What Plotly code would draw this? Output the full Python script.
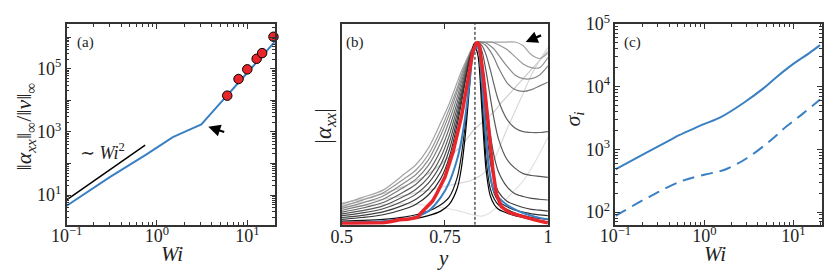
import plotly.graph_objects as go

W, H = 831, 271

# ---------------- panel (a) data ----------------
wi_a = [0.1, 0.3, 0.75, 1.0, 1.5, 2.2, 3.1, 4.0, 6.0, 10.0, 20.0]
alpha_a = [4.6, 37, 187, 320, 680, 1110, 1720, 3900, 14000, 74000, 690000]
wi_pts = [6.0, 8.0, 10.0, 12.7, 14.6, 19.5]
alpha_pts = [1.4e4, 4.7e4, 9.5e4, 2.05e5, 3.1e5, 1.02e6]
wi_ref = [0.1, 0.74]
alpha_ref = [7.1, 380]

# ---------------- panel (b) data ----------------
y_grid = [0.50, 0.55, 0.60, 0.65, 0.68, 0.71, 0.74, 0.76, 0.78, 0.79, 0.80, 0.81, 0.82,
          0.83, 0.84, 0.85, 0.86, 0.87, 0.88, 0.90, 0.92, 0.94, 0.96, 0.98, 1.00]
y_crit = 0.823

grey_curves = [
    # lightest / broadest first
    [0.113, 0.15, 0.19, 0.275, 0.33, 0.42, 0.56, 0.66, 0.78, 0.84, 0.89, 0.94, 0.98,
     1.0, 1.0, 1.0, 1.0, 1.0, 1.0, 1.0, 1.0, 0.98, 0.93, 0.91, 0.94],
    [0.10, 0.135, 0.175, 0.25, 0.30, 0.385, 0.52, 0.63, 0.75, 0.82, 0.88, 0.935, 0.98,
     1.0, 1.0, 1.0, 1.0, 0.995, 0.985, 0.96, 0.92, 0.88, 0.86, 0.86, 0.915],
    [0.09, 0.12, 0.158, 0.228, 0.275, 0.355, 0.49, 0.60, 0.73, 0.80, 0.87, 0.93, 0.98,
     1.0, 1.0, 0.995, 0.98, 0.96, 0.93, 0.87, 0.82, 0.80, 0.80, 0.82, 0.87],
    [0.08, 0.105, 0.14, 0.205, 0.25, 0.325, 0.45, 0.565, 0.70, 0.78, 0.855, 0.925, 0.975,
     1.0, 0.995, 0.98, 0.95, 0.91, 0.86, 0.78, 0.74, 0.73, 0.74, 0.76, 0.78],
    [0.07, 0.092, 0.122, 0.18, 0.222, 0.292, 0.41, 0.525, 0.67, 0.755, 0.84, 0.92, 0.975,
     1.0, 0.98, 0.93, 0.85, 0.76, 0.68, 0.58, 0.53, 0.51, 0.505, 0.505, 0.51],
    [0.06, 0.078, 0.104, 0.155, 0.195, 0.26, 0.37, 0.485, 0.64, 0.73, 0.825, 0.915, 0.975,
     1.0, 0.95, 0.84, 0.70, 0.57, 0.47, 0.36, 0.31, 0.28, 0.27, 0.265, 0.26],
    [0.05, 0.065, 0.088, 0.132, 0.168, 0.228, 0.33, 0.445, 0.61, 0.71, 0.81, 0.91, 0.975,
     1.0, 0.90, 0.70, 0.50, 0.37, 0.29, 0.21, 0.17, 0.155, 0.145, 0.14, 0.136],
    [0.04, 0.052, 0.071, 0.108, 0.14, 0.195, 0.29, 0.405, 0.58, 0.69, 0.80, 0.905, 0.975,
     0.99, 0.83, 0.55, 0.35, 0.24, 0.18, 0.13, 0.11, 0.095, 0.085, 0.08, 0.075],
    [0.03, 0.04, 0.055, 0.085, 0.113, 0.163, 0.253, 0.365, 0.55, 0.665, 0.79, 0.90, 0.97,
     0.98, 0.76, 0.45, 0.26, 0.17, 0.13, 0.10, 0.08, 0.07, 0.06, 0.055, 0.05],
    [0.02, 0.024, 0.03, 0.042, 0.055, 0.075, 0.11, 0.15, 0.26, 0.38, 0.56, 0.79, 0.97,
     0.97, 0.70, 0.36, 0.20, 0.14, 0.11, 0.085, 0.065, 0.05, 0.04, 0.035, 0.03],
    [0.012, 0.015, 0.019, 0.027, 0.035, 0.05, 0.075, 0.11, 0.20, 0.31, 0.50, 0.76, 0.99,
     0.93, 0.62, 0.30, 0.16, 0.11, 0.085, 0.065, 0.05, 0.04, 0.03, 0.022, 0.017],
]
grey_colors = ["#a4a4a4", "#979797", "#8a8a8a", "#7c7c7c", "#636363", "#585858",
               "#4c4c4c", "#3e3e3e", "#2e2e2e", "#161616", "#000000"]

faint_curves = [
    [0.10, 0.105, 0.112, 0.116, 0.113, 0.105, 0.095, 0.088, 0.078, 0.072, 0.066, 0.06, 0.054,
     0.05, 0.048, 0.055, 0.068, 0.085, 0.105, 0.145, 0.19, 0.24, 0.31, 0.39, 0.48],
    [0.11, 0.125, 0.14, 0.16, 0.175, 0.19, 0.205, 0.215, 0.225, 0.23, 0.235, 0.24, 0.25,
     0.26, 0.275, 0.295, 0.32, 0.36, 0.41, 0.52, 0.62, 0.72, 0.82, 0.90, 0.97],
    [0.12, 0.14, 0.17, 0.21, 0.24, 0.28, 0.33, 0.37, 0.41, 0.43, 0.46, 0.49, 0.52,
     0.54, 0.56, 0.58, 0.60, 0.62, 0.65, 0.70, 0.75, 0.80, 0.85, 0.90, 0.95],
]
faint_colors = ["#e2e2e2", "#d8d8d8", "#cdcdcd"]

blue_b = [0.012, 0.015, 0.02, 0.03, 0.045, 0.075, 0.15, 0.23, 0.36, 0.46, 0.60, 0.78, 0.95,
          0.97, 0.78, 0.48, 0.27, 0.18, 0.15, 0.11, 0.085, 0.065, 0.05, 0.038, 0.03]

y_red = [0.50, 0.54, 0.58, 0.60, 0.62, 0.64, 0.66, 0.675, 0.685, 0.69, 0.70, 0.71, 0.72, 0.73,
         0.75, 0.77, 0.79, 0.805, 0.818, 0.828, 0.834, 0.844, 0.855, 0.867, 0.875, 0.887, 0.907,
         0.946, 0.97, 0.993, 1.0]
v_red = [0.008, 0.01, 0.014, 0.012, 0.018, 0.028, 0.03, 0.04, 0.042, 0.06, 0.085, 0.11, 0.13, 0.17,
         0.26, 0.40, 0.59, 0.78, 0.95, 1.0, 0.98, 0.80, 0.54, 0.29, 0.17, 0.10, 0.066,
         0.04, 0.026, 0.014, 0.012]

# ---------------- panel (c) data ----------------
wi_c1 = [0.1, 0.2, 0.4, 0.52, 0.79, 1.0, 1.55, 2.8, 4.64, 6.5, 9.9, 15.1, 20.0]
sig_c1 = [479, 813, 1370, 1675, 2190, 2535, 3290, 5570, 9420, 14200, 22700, 34100, 45600]
wi_c2 = [0.1, 0.24, 0.56, 1.02, 1.69, 3.0, 5.5, 8.4, 12.8, 20.0]
sig_c2 = [87, 175, 313, 396, 472, 720, 1370, 2320, 3700, 6200]

# ---------------- styling ----------------
FONT = "Liberation Serif, DejaVu Serif, serif"
AX = "#333333"
BLUE = "#3a80c2"
RED = "#e8252b"
ydom = [1 - 222.7 / H, 1 - 12.3 / H]

fig = go.Figure()

# (a)
fig.add_trace(go.Scatter(x=wi_ref, y=alpha_ref, mode="lines", line=dict(color="black", width=1.5),
                         xaxis="x", yaxis="y", showlegend=False))
fig.add_trace(go.Scatter(x=wi_a, y=alpha_a, mode="lines", line=dict(color=BLUE, width=2),
                         xaxis="x", yaxis="y", showlegend=False))
fig.add_trace(go.Scatter(x=wi_pts, y=alpha_pts, mode="markers",
                         marker=dict(color=RED, size=9.5, line=dict(color="black", width=1)),
                         xaxis="x", yaxis="y", showlegend=False, cliponaxis=False))

# (b)
for vals, col in zip(faint_curves, faint_colors):
    fig.add_trace(go.Scatter(x=y_grid, y=vals, mode="lines",
                             line=dict(color=col, width=1.2, shape="spline", smoothing=0.8),
                             xaxis="x2", yaxis="y2", showlegend=False))
for vals, col in zip(grey_curves, grey_colors):
    fig.add_trace(go.Scatter(x=y_grid, y=vals, mode="lines",
                             line=dict(color=col, width=1.2, shape="spline", smoothing=0.8),
                             xaxis="x2", yaxis="y2", showlegend=False))
fig.add_trace(go.Scatter(x=[y_crit, y_crit], y=[0, 1.1], mode="lines",
                         line=dict(color="black", width=1, dash="3px,2px"),
                         xaxis="x2", yaxis="y2", showlegend=False))
fig.add_trace(go.Scatter(x=y_grid, y=blue_b, mode="lines",
                         line=dict(color=BLUE, width=2, shape="spline", smoothing=0.8),
                         xaxis="x2", yaxis="y2", showlegend=False))
fig.add_trace(go.Scatter(x=y_red, y=v_red, mode="lines",
                         line=dict(color=RED, width=3.5),
                         xaxis="x2", yaxis="y2", showlegend=False))

# (c)
fig.add_trace(go.Scatter(x=wi_c1, y=sig_c1, mode="lines", line=dict(color=BLUE, width=2, shape="spline"),
                         xaxis="x3", yaxis="y3", showlegend=False))
fig.add_trace(go.Scatter(x=wi_c2, y=sig_c2, mode="lines",
                         line=dict(color=BLUE, width=2, dash="12px,7px", shape="spline"),
                         xaxis="x3", yaxis="y3", showlegend=False))


def minor_vals(decades):
    return [m * 10 ** d for d in decades for m in range(2, 10)]


def sup(e):
    return "10<sup>%s</sup>" % e


base_ax = dict(showline=True, linecolor=AX, linewidth=1.6, mirror="allticks",
               ticks="inside", ticklen=5, tickcolor=AX, tickwidth=1,
               showgrid=False, zeroline=False,
               tickfont=dict(family=FONT, size=18, color="#222"))
minor_style = dict(ticks="inside", ticklen=3, tickcolor=AX, tickwidth=0.8, showgrid=False)

xa = dict(base_ax, type="log", domain=[52 / W, 266 / W], anchor="y", range=[-1, 1.31],
          tickvals=[0.1, 1, 10], ticktext=[sup("−1"), sup("0"), sup("1")], ticklabelstandoff=-6,
          minor=dict(minor_style, tickvals=minor_vals([-1, 0, 1])))
ya = dict(base_ax, type="log", domain=ydom, anchor="x", range=[0.06, 6.42],
          tickvals=[1, 10, 100, 1e3, 1e4, 1e5, 1e6],
          ticktext=["", sup("1"), "", sup("3"), "", sup("5"), ""],
          minor=dict(minor_style, tickvals=minor_vals([0, 1, 2, 3, 4, 5, 6])))
xb = dict(base_ax, domain=[334.3 / W, 545.7 / W], anchor="y2", range=[0.5, 1.0],
          tickvals=[0.5, 0.75, 1.0], ticktext=["0.5", "0.75", "1"], ticklabelstandoff=-5)
yb = dict(base_ax, domain=ydom, anchor="x2", range=[0, 1.1], ticks="", showticklabels=False)
xc = dict(base_ax, type="log", domain=[615 / W, 826.7 / W], anchor="y3", range=[-1, 1.32],
          tickvals=[0.1, 1, 10], ticktext=[sup("−1"), sup("0"), sup("1")], ticklabelstandoff=-6,
          minor=dict(minor_style, tickvals=minor_vals([-1, 0, 1])))
yc = dict(base_ax, type="log", domain=ydom, anchor="x3", range=[1.796, 5.0],
          tickvals=[100, 1e3, 1e4, 1e5], ticktext=[sup("2"), sup("3"), sup("4"), sup("5")],
          minor=dict(minor_style, tickvals=minor_vals([1, 2, 3, 4])))


def ann(text, px, py, size, angle=0):
    return dict(text=text, x=px / W, y=1 - py / H, xref="paper", yref="paper",
                showarrow=False, xanchor="center", yanchor="middle", textangle=angle,
                font=dict(family=FONT, size=size, color="#222"))


annotations = [
    ann("(a)", 71, 32, 15),
    ann("(b)", 348, 32, 15),
    ann("(c)", 632, 32, 15),
    ann("∼ <i>Wi</i><sup>2</sup>", 89, 146, 18),
    ann("<i>Wi</i>", 160, 253, 21),
    ann("<i>y</i>", 438, 257, 21),
    ann("<i>Wi</i>", 717, 253, 21),
    ann("‖<i>α<sub>xx</sub></i>‖<sub>∞</sub>/‖<i>v</i>‖<sub>∞</sub>", 9, 120, 22, -90),
    ann("|<i>α<sub>xx</sub></i>|", 317, 119, 23, -90),
    ann("<i>σ<sub>i</sub></i>", 572, 112, 22, -90),
    # arrows
    dict(text="", x=0.568, y=3.16, ax=0.761, ay=2.98, xref="x", yref="y", axref="x", ayref="y",
         showarrow=True, arrowhead=2, arrowsize=1.1, arrowwidth=2.2, arrowcolor="black", standoff=0),
    dict(text="", x=0.946, y=1.0, ax=0.987, ay=1.04, xref="x2", yref="y2", axref="x2", ayref="y2",
         showarrow=True, arrowhead=2, arrowsize=1.1, arrowwidth=2.2, arrowcolor="black", standoff=0),
]

fig.update_layout(
    width=W, height=H, margin=dict(l=0, r=0, t=0, b=0),
    paper_bgcolor="white", plot_bgcolor="white",
    xaxis=xa, yaxis=ya, xaxis2=xb, yaxis2=yb, xaxis3=xc, yaxis3=yc,
    annotations=annotations, showlegend=False,
)

fig.write_html("out.html", config={"displayModeBar": False},
               post_script="document.body.style.margin='0';document.body.style.overflow='hidden';")
